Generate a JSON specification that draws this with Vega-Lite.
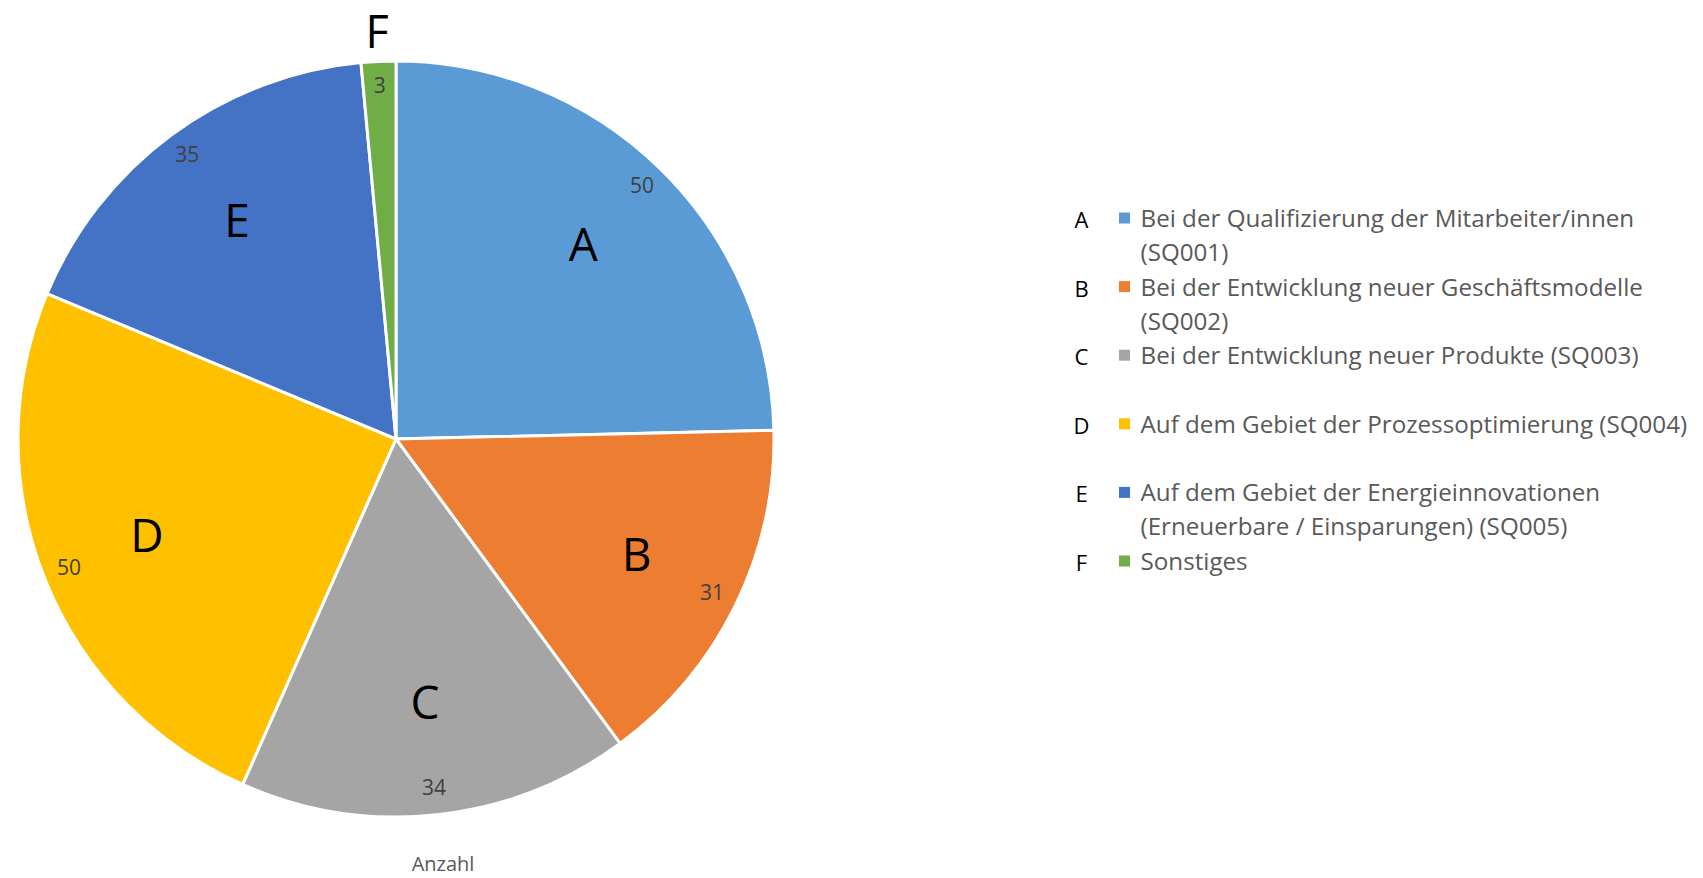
{
  "$schema": "https://vega.github.io/schema/vega-lite/v6.json",
  "padding": 0,
  "background": "white",
  "spacing": 268,
  "data": {
    "values": [
      {"cat": "A", "ord": 1, "wert": 50, "label": "Bei der Qualifizierung der Mitarbeiter/innen\n(SQ001)"},
      {"cat": "B", "ord": 2, "wert": 31, "label": "Bei der Entwicklung neuer Geschäftsmodelle\n(SQ002)"},
      {"cat": "C", "ord": 3, "wert": 34, "label": "Bei der Entwicklung neuer Produkte (SQ003)"},
      {"cat": "D", "ord": 4, "wert": 50, "label": "Auf dem Gebiet der Prozessoptimierung (SQ004)"},
      {"cat": "E", "ord": 5, "wert": 35, "label": "Auf dem Gebiet der Energieinnovationen\n(Erneuerbare / Einsparungen) (SQ005)"},
      {"cat": "F", "ord": 6, "wert": 3, "label": "Sonstiges"}
    ]
  },
  "hconcat": [
    {
      "width": 792,
      "height": 878,
      "title": {"text": "Anzahl", "orient": "bottom", "frame": "group", "offset": -23, "dx": 47, "fontSize": 20, "fontWeight": "normal", "color": "#595959", "font": "Open Sans"},
      "encoding": {
        "theta": {"field": "wert", "type": "quantitative", "stack": true},
        "order": {"field": "ord", "type": "quantitative"}
      },
      "layer": [
        {
          "mark": {"type": "arc", "outerRadius": 378, "stroke": "white", "strokeWidth": 3},
          "encoding": {
            "color": {"field": "cat", "type": "nominal", "legend": null,
              "scale": {"domain": ["A", "B", "C", "D", "E", "F"], "range": ["#5B9BD5", "#ED7D31", "#A5A5A5", "#FFC000", "#4472C4", "#70AD47"]}}
          }
        },
        {
          "mark": {"type": "text", "radius": 352, "fontSize": 21, "color": "#404040", "font": "Open Sans"},
          "encoding": {
            "detail": {"field": "cat", "type": "nominal"},
            "text": {"field": "wert", "type": "quantitative"}
          }
        },
        {
          "mark": {"type": "text", "radius": 268, "fontSize": 46, "color": "#000000", "font": "Open Sans"},
          "encoding": {
            "detail": {"field": "cat", "type": "nominal"},
            "text": {"condition": {"test": "datum.cat === 'F'", "value": ""}, "field": "cat", "type": "nominal"}
          }
        },
        {
          "mark": {"type": "text", "radius": 405, "fontSize": 45, "color": "#000000", "font": "Open Sans"},
          "encoding": {
            "detail": {"field": "cat", "type": "nominal"},
            "text": {"condition": {"test": "datum.cat !== 'F'", "value": ""}, "field": "cat", "type": "nominal"}
          }
        }
      ]
    },
    {
      "width": 86,
      "height": 878,
      "encoding": {
        "y": {"field": "ord", "type": "quantitative", "axis": null,
          "scale": {"domain": [-2.178, 10.621], "reverse": true, "nice": false, "zero": false}}
      },
      "layer": [
        {
          "mark": {"type": "text", "fontSize": 22, "color": "#000000", "font": "Open Sans", "baseline": "middle", "align": "center", "dy": 3},
          "encoding": {
            "x": {"datum": "Buchstabe", "type": "nominal", "axis": null,
              "scale": {"type": "point", "padding": 0.5, "domain": ["Buchstabe", "Symbol"]}},
            "text": {"field": "cat", "type": "nominal"}
          }
        },
        {
          "mark": {"type": "point", "shape": "square", "size": 121, "filled": true, "opacity": 1},
          "encoding": {
            "x": {"datum": "Symbol", "type": "nominal"},
            "color": {"field": "cat", "type": "nominal", "legend": null,
              "scale": {"domain": ["A", "B", "C", "D", "E", "F"], "range": ["#5B9BD5", "#ED7D31", "#A5A5A5", "#FFC000", "#4472C4", "#70AD47"]}}
          }
        },
        {
          "mark": {"type": "text", "fontSize": 24.2, "color": "#595959", "font": "Open Sans", "align": "left", "baseline": "alphabetic", "dx": 16, "dy": 9, "lineBreak": "\n", "lineHeight": 34},
          "encoding": {
            "x": {"datum": "Symbol", "type": "nominal"},
            "text": {"field": "label", "type": "nominal"}
          }
        }
      ]
    }
  ],
  "config": {
    "view": {"stroke": null},
    "font": "Open Sans"
  }
}
